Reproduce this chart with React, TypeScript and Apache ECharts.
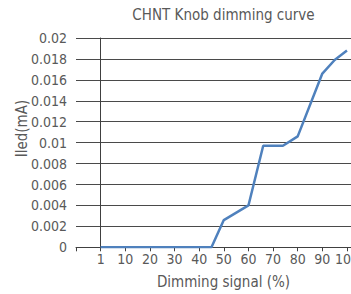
import React, { useEffect, useRef } from "react";
import * as echarts from "echarts";

// Tick labels of the (evenly spaced) dimming-signal axis
const xTickLabels = ["1", "10", "20", "30", "40", "50", "60", "70", "80", "90", "100"];
const xTickValues = [1, 10, 20, 30, 40, 50, 60, 70, 80, 90, 100];

// Measured curve
const dimmingSignal = [1, 10, 20, 30, 40, 45, 50, 60, 66, 74, 80, 90, 95, 100];
const ledCurrent = [0, 0, 0, 0, 0, 0, 0.0026, 0.004, 0.0097, 0.0097, 0.0106, 0.0166, 0.0179, 0.0188];

const yTicks = { min: 0, max: 0.02, interval: 0.002 };

const FONT = "'Liberation Sans Narrow', 'DejaVu Sans Condensed', 'Roboto', sans-serif";
const TEXT = "#595959";

// position on the evenly spaced tick axis
function toPos(s: number): number {
  for (let i = 0; i < xTickValues.length - 1; i++) {
    const a = xTickValues[i];
    const b = xTickValues[i + 1];
    if (s >= a && s <= b) return i + (s - a) / (b - a);
  }
  return xTickValues.length - 1;
}

export default function App() {
  const ref = useRef<HTMLDivElement>(null);
  useEffect(() => {
    document.body.style.margin = "0";
    const chart = echarts.init(ref.current!, null, { renderer: "svg" });
    chart.setOption({
      animation: false,
      backgroundColor: "#ffffff",
      grid: {
        left: 76,
        width: 295.6,
        top: 38,
        height: 209.3,
        containLabel: false,
        outerBoundsMode: "none",
      },
      xAxis: {
        type: "value",
        min: -1,
        max: 11,
        interval: 1,
        axisLine: { show: true, lineStyle: { color: "#404040", width: 1 } },
        axisTick: { show: true, length: 4, lineStyle: { color: "#404040" } },
        splitLine: { show: false },
        axisLabel: {
          margin: 5,
          color: TEXT,
          fontFamily: FONT,
          fontSize: 14,
          showMinLabel: true,
          showMaxLabel: true,
          hideOverlap: false,
          formatter: (v: number) => {
            const i = Math.round(v);
            if (Math.abs(v - i) > 1e-6 || i < 0 || i >= xTickLabels.length) return "";
            return xTickLabels[i];
          },
        },
      },
      yAxis: {
        type: "value",
        min: yTicks.min,
        max: yTicks.max,
        interval: yTicks.interval,
        axisLine: { show: true, lineStyle: { color: "#404040", width: 1 } },
        axisTick: { show: false },
        splitLine: { show: true, lineStyle: { color: "#4a4a4a", width: 1 } },
        axisLabel: {
          margin: 9,
          color: TEXT,
          fontFamily: FONT,
          fontSize: 14,
          formatter: (v: number) => String(parseFloat(v.toFixed(4))),
        },
      },
      graphic: [
        {
          type: "text",
          x: 223.5,
          y: 14.5,
          style: {
            text: "CHNT Knob dimming curve",
            fill: TEXT,
            font: `15px ${FONT}`,
            textAlign: "center",
            textVerticalAlign: "middle",
          },
        },
        {
          type: "text",
          x: 223.5,
          y: 282,
          style: {
            text: "Dimming signal (%)",
            fill: TEXT,
            font: `15px ${FONT}`,
            textAlign: "center",
            textVerticalAlign: "middle",
          },
        },
        {
          type: "text",
          x: 22,
          y: 128.5,
          rotation: Math.PI / 2,
          style: {
            text: "Iled(mA)",
            fill: TEXT,
            font: `15px ${FONT}`,
            textAlign: "center",
            textVerticalAlign: "middle",
          },
        },
      ],
      series: [
        {
          type: "line",
          data: dimmingSignal.map((s, i) => [toPos(s), ledCurrent[i]]),
          showSymbol: false,
          symbol: "none",
          lineStyle: { color: "#4f81bd", width: 2.5 },
          clip: true,
        },
      ],
    });
    return () => chart.dispose();
  }, []);
  return <div ref={ref} style={{ width: 351, height: 294 }} />;
}
